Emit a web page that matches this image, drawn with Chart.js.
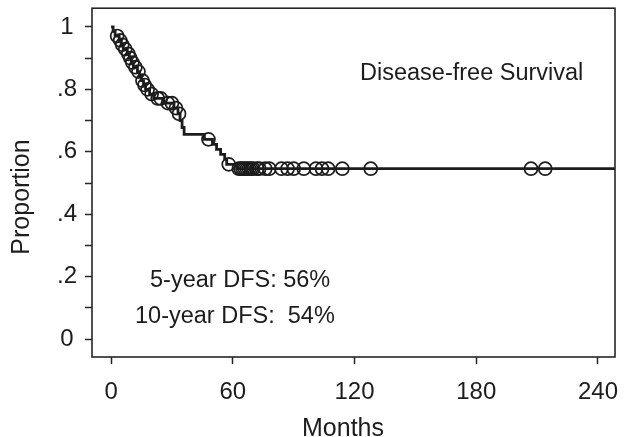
<!DOCTYPE html>
<html>
<head>
<meta charset="utf-8">
<style>
  html, body { margin: 0; padding: 0; background: #ffffff; }
  canvas { display: block; }
</style>
<script src="https://cdn.jsdelivr.net/npm/chart.js@4/dist/chart.umd.min.js"></script>
</head>
<body>
<canvas id="km" width="628" height="437"></canvas>
<script>
// Kaplan-Meier estimate of disease-free survival: event times (months) and survival after each step
const stepMonths   = [0, 1, 2, 4, 5, 6, 8, 9, 10, 11, 13, 14, 15, 16, 17, 19, 21, 26, 31, 33, 34, 35, 36, 46, 50, 52, 54, 56, 57, 62, 248.4];
const stepSurvival = [1, 0.986, 0.971, 0.957, 0.943, 0.929, 0.914, 0.900, 0.886, 0.871, 0.857, 0.843, 0.828, 0.814, 0.800, 0.785, 0.771, 0.756, 0.740, 0.722, 0.700, 0.678, 0.656, 0.640, 0.624, 0.608, 0.592, 0.576, 0.560, 0.546, 0.546];

// Censored observations (open circles on the curve)
const censorMonths   = [3, 4.5, 5.5, 7, 8.5, 9.5, 10.5, 12, 13.5, 15.5, 16.5, 18, 20, 23, 24.5, 28, 30, 32, 33.5, 48, 58,
                        63, 64, 65, 66, 67, 68, 69, 70, 72, 73, 76, 78, 84, 87, 90, 95, 101, 104, 107, 114, 128, 207, 214];
const censorSurvival = [0.971, 0.957, 0.943, 0.929, 0.914, 0.900, 0.886, 0.871, 0.857, 0.828, 0.814, 0.800, 0.785, 0.771, 0.771, 0.756, 0.756, 0.740, 0.722, 0.640, 0.560,
                        0.546, 0.546, 0.546, 0.546, 0.546, 0.546, 0.546, 0.546, 0.546, 0.546, 0.546, 0.546, 0.546, 0.546, 0.546, 0.546, 0.546, 0.546, 0.546, 0.546, 0.546, 0.546, 0.546];

// Axis ticks
const xTicks = [0, 60, 120, 180, 240];
const xTickLabels = ['0', '60', '120', '180', '240'];
const yTicks = [0, 0.1, 0.2, 0.3, 0.4, 0.5, 0.6, 0.7, 0.8, 0.9, 1];
const yTickLabels = ['0', '', '.2', '', '.4', '', '.6', '', '.8', '', '1'];

// Text annotations placed in data coordinates (months, proportion)
const notes = [
  { text: 'Disease-free Survival', x: 122.7, y: 0.831 },
  { text: '5-year DFS: 56%',       x: 19.2,  y: 0.167 },
  { text: '10-year DFS:  54%',     x: 11.8,  y: 0.051 }
];

const ink = '#1c1c1c';
const fontFamily = '"Liberation Sans", Arial, sans-serif';

const frameAndText = {
  id: 'frameAndText',
  afterDraw(chart) {
    const { ctx, chartArea: a, scales } = chart;
    ctx.save();
    ctx.strokeStyle = '#262626';
    ctx.lineWidth = 1.6;
    ctx.strokeRect(a.left, a.top, a.right - a.left, a.bottom - a.top);

    ctx.fillStyle = ink;
    ctx.font = '23.5px ' + fontFamily;
    ctx.textAlign = 'left';
    ctx.textBaseline = 'alphabetic';
    notes.forEach(n => {
      ctx.fillText(n.text, scales.x.getPixelForValue(n.x), scales.y.getPixelForValue(n.y));
    });

    // axis titles
    ctx.font = '25px ' + fontFamily;
    ctx.textAlign = 'center';
    ctx.textBaseline = 'middle';
    ctx.fillText('Months', 343, 429);
    ctx.save();
    ctx.translate(22, 197);
    ctx.rotate(-Math.PI / 2);
    ctx.fillText('Proportion', 0, 0);
    ctx.restore();
    ctx.restore();
  }
};

new Chart(document.getElementById('km'), {
  type: 'scatter',
  data: {
    datasets: [
      {
        label: 'DFS',
        data: stepMonths.map((m, i) => ({ x: m, y: stepSurvival[i] })),
        showLine: true,
        stepped: 'before',
        borderColor: ink,
        borderWidth: 2.8,
        pointRadius: 0,
        borderCapStyle: 'butt',
        borderJoinStyle: 'miter',
        fill: false
      },
      {
        label: 'Censored',
        data: censorMonths.map((m, i) => ({ x: m, y: censorSurvival[i] })),
        showLine: false,
        pointStyle: 'circle',
        pointRadius: 6.5,
        pointBorderWidth: 1.7,
        pointBorderColor: ink,
        pointBackgroundColor: 'rgba(0,0,0,0)'
      }
    ]
  },
  options: {
    responsive: false,
    animation: false,
    devicePixelRatio: 1,
    layout: { padding: { top: 6, right: 13, left: 0, bottom: 0 } },
    plugins: { legend: { display: false }, tooltip: { enabled: false } },
    scales: {
      x: {
        type: 'linear',
        min: -9.4,
        max: 248.4,
        afterFit(s) { s.height = 80; s.paddingLeft = 0; s.paddingRight = 0; },
        afterBuildTicks(s) { s.ticks = xTicks.map(v => ({ value: v })); },
        border: { display: false },
        grid: { drawOnChartArea: false, tickLength: 7, tickColor: '#262626', tickWidth: 1.5 },
        ticks: {
          color: ink,
          padding: 14,
          maxRotation: 0,
          font: { family: fontFamily, size: 24 },
          callback: (v) => xTickLabels[xTicks.indexOf(v)] ?? ''
        }
      },
      y: {
        type: 'linear',
        min: -0.057,
        max: 1.06,
        afterFit(s) { s.width = 92; s.paddingTop = 0; s.paddingBottom = 0; },
        afterBuildTicks(s) { s.ticks = yTicks.map(v => ({ value: v })); },
        border: { display: false },
        grid: { drawOnChartArea: false, tickLength: 7, tickColor: '#262626', tickWidth: 1.5 },
        ticks: {
          color: ink,
          padding: 8,
          crossAlign: 'center',
          autoSkip: false,
          font: { family: fontFamily, size: 24 },
          callback: (v) => {
            const i = yTicks.findIndex(t => Math.abs(t - v) < 1e-9);
            return i >= 0 ? yTickLabels[i] : '';
          }
        }
      }
    }
  },
  plugins: [frameAndText]
});
</script>
</body>
</html>
